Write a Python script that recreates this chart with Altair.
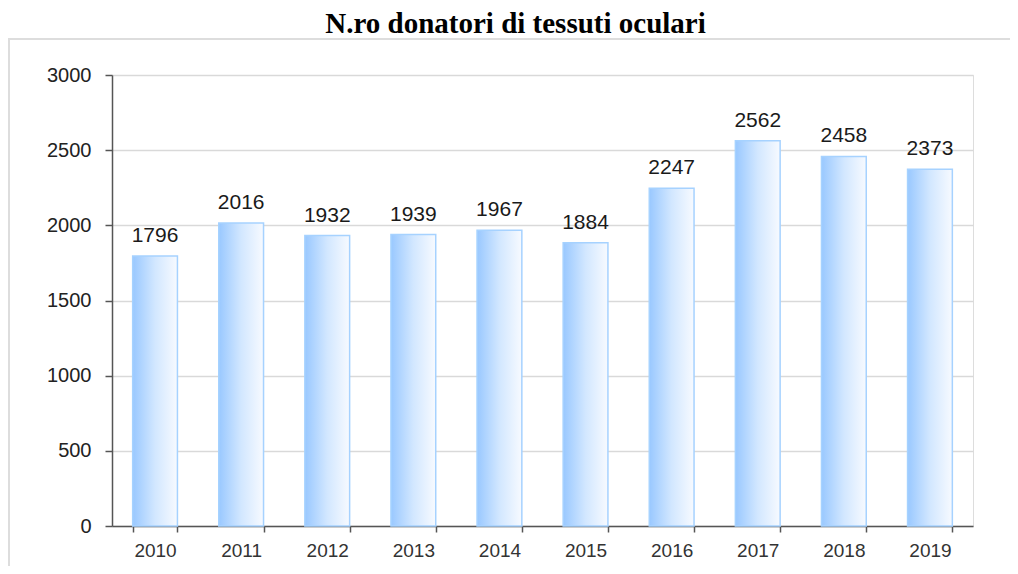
import altair as alt
import pandas as pd

years = ["2010", "2011", "2012", "2013", "2014", "2015", "2016", "2017", "2018", "2019"]
donors = [1796, 2016, 1932, 1939, 1967, 1884, 2247, 2562, 2458, 2373]
y_ticks = [0, 500, 1000, 1500, 2000, 2500, 3000]
title_text = "N.ro donatori di tessuti oculari"

df = pd.DataFrame({"anno": years, "donatori": donors})

W, H = 861, 451

x_enc = alt.X("anno:N", sort=years, title=None,
              scale=alt.Scale(paddingInner=0.48, paddingOuter=0.24),
              axis=alt.Axis(labelAngle=0, labelFontSize=19, labelColor="#333333",
                            labelFont="Liberation Sans", labelPadding=9,
                            tickBand="extent", tickSize=6, tickColor="#555555",
                            tickWidth=1.5, domainColor="#555555", domainWidth=1.5,
                            grid=False))
y_enc = alt.Y("donatori:Q", title=None,
              scale=alt.Scale(domain=[0, 3000], nice=False),
              axis=alt.Axis(values=y_ticks, format="d", labelFontSize=20,
                            labelColor="#222222",
                            labelFont="Liberation Sans", labelPadding=14,
                            tickSize=7, tickColor="#555555", tickWidth=1.5,
                            domainColor="#555555", domainWidth=1.5,
                            grid=True, gridColor="#d9d9d9", gridWidth=1.5))

gradient = alt.Gradient(gradient="linear", x1=0, x2=1, y1=0, y2=0,
                        stops=[alt.GradientStop(color="#99c8ff", offset=0),
                               alt.GradientStop(color="#d2e7ff", offset=0.5),
                               alt.GradientStop(color="#f7faff", offset=1)])

first = alt.datum.anno == years[0]

frame = alt.Chart(df).mark_rect(filled=False, stroke="#dddddd", strokeWidth=2).encode(
    x=alt.value(-103), x2=alt.value(2000), y=alt.value(-36), y2=alt.value(2000)
).transform_filter(first)

title = alt.Chart(df).mark_text(
    text=title_text, fontSize=29, font="Liberation Serif", fontWeight="bold",
    color="#000000", baseline="alphabetic", align="center"
).encode(x=alt.value(W / 2 - 27), y=alt.value(-42)).transform_filter(first)

bars = alt.Chart(df).mark_bar(color=gradient, stroke="#a6d2ff", strokeWidth=1.5).encode(
    x=x_enc, y=y_enc
)

labels = alt.Chart(df).mark_text(baseline="alphabetic", dy=-14, fontSize=21,
                                 font="Liberation Sans", color="#1a1a1a").encode(
    x=alt.X("anno:N", sort=years), y=alt.Y("donatori:Q"), text=alt.Text("donatori:Q")
)

chart = alt.layer(frame, title, bars, labels).properties(
    width=W, height=H,
    padding={"left": 104, "top": 67, "right": 37, "bottom": 40},
    autosize=alt.AutoSizeParams(type="none"),
).configure_view(stroke=None).configure(background="white")

chart.save("out.html", embed_options={"renderer": "svg", "actions": False})
